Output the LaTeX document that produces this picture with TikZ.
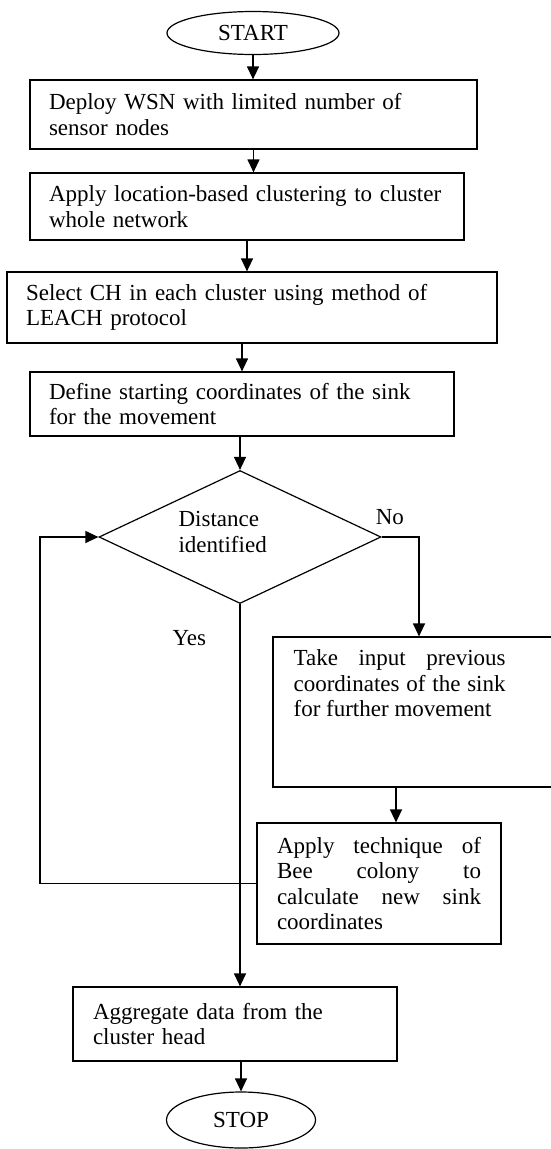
\documentclass[tikz,border=0pt]{standalone}
\usepackage{fontspec}
\setmainfont{Liberation Serif}
\usetikzlibrary{shapes.geometric,arrows.meta}

\begin{document}
\begin{tikzpicture}[x=1pt,y=-1pt,line width=1.2pt,
        font=\fontsize{23}{25.5}\selectfont,
        procbox/.style={draw,rectangle,inner xsep=19pt,inner ysep=0pt,align=left},
        endpoint/.style={draw,ellipse,inner sep=0pt},
        flow/.style={-{Triangle[length=13pt,width=12pt]}}]
            \useasboundingbox (0,0) rectangle (551,1149);
            \node[endpoint,minimum width=172pt,minimum height=43pt] (start) at (253,33) {START\hspace{20pt}};
            \node[procbox,minimum width=447pt,minimum height=69pt,text width=409pt] (deploy) at (253.5,114.5) {Deploy WSN with limited number of\\sensor nodes};
            \node[procbox,minimum width=434pt,minimum height=67pt,text width=396pt] (cluster) at (247,206.5) {Apply location-based clustering to cluster\\whole network};
            \node[procbox,minimum width=490pt,minimum height=71pt,text width=452pt] (select) at (252,307.5) {Select CH in each cluster using method of\\LEACH protocol};
            \node[procbox,minimum width=424pt,minimum height=64pt,text width=386pt] (define) at (242,404) {Define starting coordinates of the sink\\for the movement};
            \node[draw,diamond,minimum width=282pt,minimum height=133pt,inner sep=0pt] (dist) at (240,537) {};
            \node[align=left,anchor=west,inner sep=0pt] (disttext) at (178,532) {Distance\\identified};
            \node[draw,rectangle,minimum width=292pt,minimum height=150pt] (take) at (419,712) {};
            \node[anchor=north west,text width=212pt,align=justify,inner sep=0pt] (taketext) at (293,649) {Take input previous\linebreak coordinates of the sink\linebreak for further movement};
            \node[procbox,minimum width=244pt,minimum height=121pt,text width=204pt,inner xsep=20pt,align=justify] (bee) at (379,883.5) {Apply technique of\linebreak Bee colony to\linebreak calculate new sink\linebreak coordinates};
            \node[procbox,minimum width=324pt,minimum height=74pt,text width=284pt,inner xsep=20pt] (aggregate) at (235,1024) {Aggregate data from the\\cluster head};
            \node[endpoint,minimum width=149pt,minimum height=56pt] (stop) at (241,1120) {STOP\hspace{20pt}};
            \coordinate (takex) at (396,0);
            \coordinate (loopx) at (40,0);
            \draw[flow] (start.south) -- (start.south |- deploy.north);
            \draw[flow] (deploy.south) -- (deploy.south |- cluster.north);
            \draw[flow] (cluster.south) -- (cluster.south |- select.north);
            \draw[flow] (define.north |- select.south) -- (define.north);
            \draw[flow] (dist.north |- define.south) -- (dist.north);
            \draw[flow] (dist.east) -| node[pos=0.11,above=8pt]{No} (take.north);
            \draw[flow] (take.south -| takex) -- (bee.north -| takex);
            \draw[flow] (bee.west) -- (bee.west -| loopx) |- (dist.west);
            \draw[flow] (dist.south) -- node[pos=0.09,left=30pt]{Yes} (dist.south |- aggregate.north);
            \draw[flow] (stop.north |- aggregate.south) -- (stop.north);
\end{tikzpicture}
\end{document}
